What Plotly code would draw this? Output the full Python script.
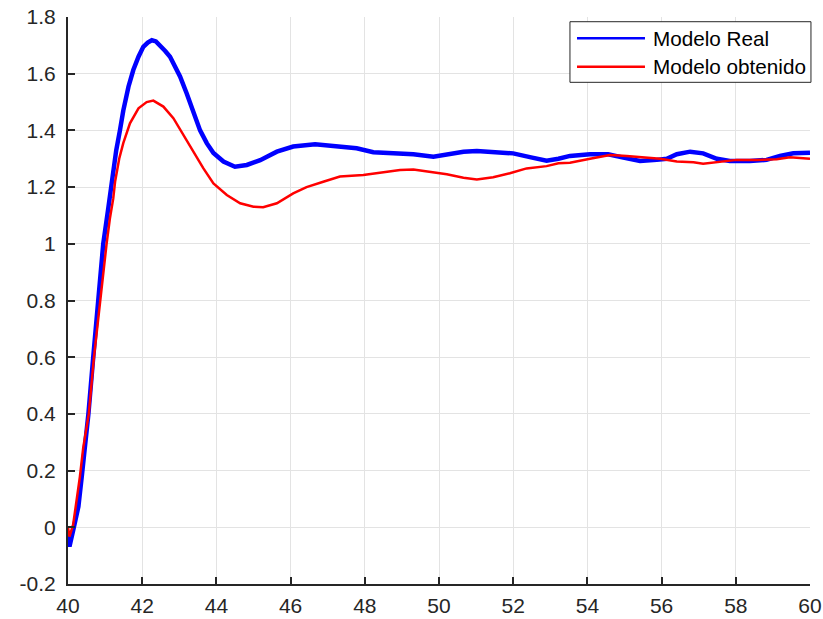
import plotly.graph_objects as go

# Time axis (s) and response of the real plant
t_real = [40.00, 40.04, 40.14, 40.28, 40.37, 40.45, 40.55, 40.68, 40.82, 40.95,
          41.08, 41.20, 41.30, 41.40, 41.49, 41.63, 41.76, 41.90, 42.03, 42.15,
          42.26, 42.37, 42.48, 42.62, 42.75, 42.88, 43.02, 43.20, 43.38, 43.56,
          43.74, 43.92, 44.19, 44.50, 44.82, 45.18, 45.63, 46.07, 46.66, 47.33,
          47.78, 48.23, 48.68, 49.31, 49.85, 50.21, 50.66, 51.02, 51.55, 52.00,
          52.48, 52.90, 53.22, 53.53, 54.07, 54.56, 54.97, 55.42, 55.87, 56.14,
          56.41, 56.77, 57.12, 57.49, 57.84, 58.38, 58.83, 59.19, 59.55, 60.00]
y_real = [-0.027, -0.068, -0.010, 0.073, 0.178, 0.270, 0.400, 0.600, 0.800, 1.000,
          1.120, 1.250, 1.330, 1.400, 1.470, 1.554, 1.613, 1.660, 1.695, 1.710,
          1.718, 1.714, 1.700, 1.680, 1.660, 1.625, 1.590, 1.530, 1.460, 1.400,
          1.355, 1.320, 1.290, 1.272, 1.278, 1.295, 1.325, 1.343, 1.351, 1.343,
          1.337, 1.323, 1.319, 1.316, 1.307, 1.316, 1.325, 1.327, 1.323, 1.319,
          1.305, 1.293, 1.300, 1.310, 1.316, 1.316, 1.304, 1.292, 1.296, 1.300,
          1.316, 1.325, 1.319, 1.300, 1.292, 1.292, 1.296, 1.310, 1.319, 1.321]

# Response of the identified model
t_obt = [40.00, 40.04, 40.14, 40.24, 40.32, 40.41, 40.56, 40.70, 40.86, 41.04,
         41.13, 41.22, 41.27, 41.38, 41.49, 41.67, 41.90, 42.12, 42.30, 42.57,
         42.84, 43.11, 43.38, 43.65, 43.92, 44.28, 44.64, 45.00, 45.26, 45.63,
         46.07, 46.43, 46.88, 47.33, 47.96, 48.50, 48.95, 49.31, 49.76, 50.21,
         50.66, 51.02, 51.46, 51.91, 52.36, 52.90, 53.22, 53.53, 54.07, 54.61,
         55.06, 55.51, 55.96, 56.41, 56.86, 57.12, 57.57, 58.02, 58.56, 59.10,
         59.46, 60.00]
y_obt = [0.000, -0.033, 0.010, 0.100, 0.178, 0.280, 0.400, 0.600, 0.800, 1.000,
         1.090, 1.160, 1.220, 1.300, 1.355, 1.425, 1.478, 1.500, 1.505, 1.484,
         1.443, 1.384, 1.325, 1.266, 1.213, 1.172, 1.143, 1.131, 1.129, 1.143,
         1.178, 1.200, 1.219, 1.237, 1.243, 1.251, 1.260, 1.262, 1.254, 1.245,
         1.233, 1.227, 1.235, 1.249, 1.266, 1.274, 1.284, 1.286, 1.300, 1.313,
         1.310, 1.304, 1.300, 1.290, 1.288, 1.282, 1.290, 1.296, 1.296, 1.298,
         1.305, 1.300]

series_names = ["Modelo Real", "Modelo obtenido"]
series_colors = ["#0000ff", "#ff0000"]

x_ticks = [40, 42, 44, 46, 48, 50, 52, 54, 56, 58, 60]
y_ticks = [-0.2, 0, 0.2, 0.4, 0.6, 0.8, 1.0, 1.2, 1.4, 1.6, 1.8]
y_tick_text = ["-0.2", "0", "0.2", "0.4", "0.6", "0.8", "1", "1.2", "1.4", "1.6", "1.8"]

FONT = "Liberation Sans, Arial, Helvetica, sans-serif"
AXIS_COLOR = "#262626"

fig = go.Figure()
fig.add_trace(go.Scatter(x=t_real, y=y_real, mode="lines", name=series_names[0],
                         line=dict(color=series_colors[0], width=4.5), showlegend=False))
fig.add_trace(go.Scatter(x=t_obt, y=y_obt, mode="lines", name=series_names[1],
                         line=dict(color=series_colors[1], width=2.5), showlegend=False))

axis_common = dict(
    showline=True, linecolor=AXIS_COLOR, linewidth=2,
    ticks="inside", ticklen=7, tickwidth=2, tickcolor=AXIS_COLOR,
    showgrid=True, gridcolor="#e3e3e3", gridwidth=1,
    zeroline=False, mirror=False, automargin=False,
    tickfont=dict(family=FONT, size=21, color=AXIS_COLOR),
)

fig.update_xaxes(range=[40, 60], tickvals=x_ticks, ticktext=[str(v) for v in x_ticks],
                 ticklabelstandoff=2, **axis_common)
fig.update_yaxes(range=[-0.2, 1.8], tickvals=y_ticks, ticktext=y_tick_text,
                 ticklabelstandoff=6, **axis_common)

# Legend box drawn in paper coordinates
leg_x0, leg_x1 = 0.6765, 1.0013
leg_y0, leg_y1 = 0.8848, 0.9917
row_y = [0.9624, 0.9123]
sample_x0, sample_x1 = 0.686, 0.7776
text_x = 0.7857

shapes = [dict(type="rect", xref="paper", yref="paper", x0=leg_x0, x1=leg_x1,
               y0=leg_y0, y1=leg_y1, line=dict(color=AXIS_COLOR, width=1),
               fillcolor="white", layer="above")]
annotations = []
for name, color, yy in zip(series_names, series_colors, row_y):
    shapes.append(dict(type="line", xref="paper", yref="paper", x0=sample_x0, x1=sample_x1,
                       y0=yy, y1=yy, line=dict(color=color, width=2.5), layer="above"))
    annotations.append(dict(xref="paper", yref="paper", x=text_x, y=yy, text=name,
                            showarrow=False, xanchor="left", yanchor="middle",
                            font=dict(family=FONT, size=20.7, color="#000000")))

fig.update_layout(
    width=823, height=619,
    margin=dict(l=68, r=13, t=17, b=35),
    paper_bgcolor="white", plot_bgcolor="white",
    shapes=shapes, annotations=annotations,
    showlegend=False,
)

fig.write_html("out.html")
